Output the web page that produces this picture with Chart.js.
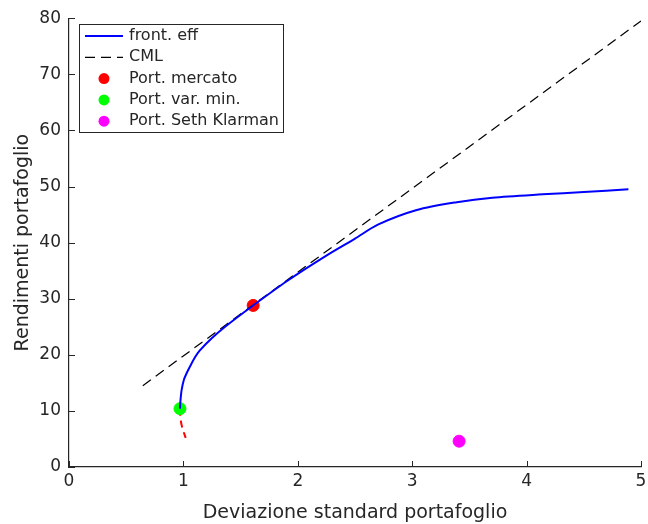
<!DOCTYPE html>
<html>
<head>
<meta charset="utf-8">
<script src="https://cdn.jsdelivr.net/npm/chart.js@4"></script>
<style>
  html, body { margin: 0; padding: 0; background: #fff; }
  #wrap { width: 648px; height: 524px; }
</style>
</head>
<body>
<div id="wrap"><canvas id="chart"></canvas></div>
<script>
// efficient frontier (upper branch)
const frontX = [0.97, 0.975, 0.985, 1.005, 1.03, 1.06, 1.10, 1.14, 1.25, 1.37, 1.61, 1.91, 2.26, 2.5, 2.7, 3.04, 3.39, 3.7, 4.14, 4.5, 4.89];
const frontY = [10.4, 12.0, 13.8, 15.6, 16.8, 18.0, 19.5, 20.7, 23.0, 25.1, 28.8, 33.2, 37.8, 40.7, 43.2, 45.8, 47.2, 48.0, 48.6, 49.0, 49.5];
// lower (inefficient) branch
const lowX = [0.97, 0.975, 0.99, 1.02];
const lowY = [10.4, 8.6, 7.0, 5.2];
// capital market line
const cmlX = [0.645, 5.0];
const cmlY = [14.5, 79.5];
// portfolios
const mktPort = [1.61, 28.8];
const minVarPort = [0.97, 10.4];
const sethPort = [3.41, 4.6];

const xTicks = [0, 1, 2, 3, 4, 5];
const yTicks = [0, 10, 20, 30, 40, 50, 60, 70, 80];

const txt = '#262626';
const fontFam = '"DejaVu Sans", sans-serif';

const toPts = (xs, ys) => xs.map((x, i) => ({ x: x, y: ys[i] }));

const datasets = [
  { label: 'front. eff', data: toPts(frontX, frontY), showLine: true, borderColor: '#0000ff',
    borderWidth: 2, pointRadius: 0, tension: 0.3, legend: 'line' },
  { label: 'CML', data: toPts(cmlX, cmlY), showLine: true, borderColor: '#000000',
    borderWidth: 1.2, borderDash: [10, 6], pointRadius: 0, legend: 'dash' },
  { label: 'Port. mercato', data: [{ x: mktPort[0], y: mktPort[1] }], pointRadius: 6,
    backgroundColor: '#ff0000', borderColor: '#ff0000', legend: 'dot' },
  { label: 'Port. var. min.', data: [{ x: minVarPort[0], y: minVarPort[1] }], pointRadius: 6,
    backgroundColor: '#00ff00', borderColor: '#00ff00', legend: 'dot' },
  { label: 'Port. Seth Klarman', data: [{ x: sethPort[0], y: sethPort[1] }], pointRadius: 6,
    backgroundColor: '#ff00ff', borderColor: '#ff00ff', legend: 'dot' },
  { label: 'inefficient', data: toPts(lowX, lowY), showLine: true, borderColor: '#ff0000',
    borderWidth: 2, borderDash: [7, 5], pointRadius: 0, tension: 0.3, legend: null }
];

// inward ticks and in-plot legend box
const matlabBits = {
  id: 'matlabBits',
  afterDraw(chart) {
    const { ctx, chartArea: a, scales: { x, y } } = chart;
    ctx.save();
    ctx.strokeStyle = txt;
    ctx.lineWidth = 1;
    ctx.beginPath();
    xTicks.forEach(v => {
      const px = Math.round(x.getPixelForValue(v)) + 0.5;
      ctx.moveTo(px, a.bottom); ctx.lineTo(px, a.bottom - 6);
    });
    yTicks.forEach(v => {
      const py = Math.round(y.getPixelForValue(v)) + 0.5;
      ctx.moveTo(a.left, py); ctx.lineTo(a.left + 6, py);
    });
    ctx.stroke();

    // legend
    const bx = 79.5, by = 24.5, bw = 204, bh = 108;
    ctx.fillStyle = '#fff';
    ctx.fillRect(bx, by, bw, bh);
    ctx.strokeStyle = txt;
    ctx.lineWidth = 1;
    ctx.strokeRect(bx, by, bw, bh);
    ctx.font = '16px ' + fontFam;
    ctx.textBaseline = 'middle';
    let row = 0;
    chart.data.datasets.forEach(ds => {
      if (!ds.legend) return;
      const cy = 36 + row * 21.3;
      if (ds.legend === 'dot') {
        ctx.fillStyle = ds.backgroundColor;
        ctx.beginPath();
        ctx.arc(104, cy, 5.5, 0, Math.PI * 2);
        ctx.fill();
      } else {
        ctx.strokeStyle = ds.borderColor;
        ctx.lineWidth = ds.borderWidth;
        ctx.setLineDash(ds.borderDash || []);
        ctx.beginPath();
        ctx.moveTo(85, cy); ctx.lineTo(123, cy);
        ctx.stroke();
        ctx.setLineDash([]);
      }
      ctx.fillStyle = txt;
      ctx.fillText(ds.label, 129, cy);
      row++;
    });
    ctx.restore();
  }
};

new Chart(document.getElementById('chart'), {
  type: 'scatter',
  data: { datasets: datasets },
  options: {
    responsive: true,
    maintainAspectRatio: false,
    animation: false,
    layout: { padding: { top: 14, right: -3, left: 0, bottom: 0 } },
    plugins: { legend: { display: false }, tooltip: { enabled: false } },
    scales: {
      x: {
        type: 'linear', min: 0, max: 5,
        afterBuildTicks: s => { s.ticks = xTicks.map(v => ({ value: v })); },
        afterFit: s => { s.height = 57; s.paddingRight = 0; s.paddingLeft = 0; },
        ticks: { color: txt, font: { family: fontFam, size: 17 }, padding: 4 },
        grid: { display: false, drawTicks: false, tickLength: 0 },
        border: { display: true, color: txt, width: 1.2 },
        title: { display: true, text: 'Deviazione standard portafoglio', color: txt,
          font: { family: fontFam, size: 19 }, padding: { top: 0, bottom: 0 } }
      },
      y: {
        type: 'linear', min: 0, max: 80,
        afterBuildTicks: s => { s.ticks = yTicks.map(v => ({ value: v })); },
        afterFit: s => { s.width = 69; },
        ticks: { color: txt, font: { family: fontFam, size: 17 }, padding: 8 },
        grid: { display: false, drawTicks: false, tickLength: 0 },
        border: { display: true, color: txt, width: 1.2 },
        title: { display: true, text: 'Rendimenti portafoglio', color: txt,
          font: { family: fontFam, size: 19 }, padding: { top: 12, bottom: 0 } }
      }
    }
  },
  plugins: [matlabBits]
});
</script>
</body>
</html>
